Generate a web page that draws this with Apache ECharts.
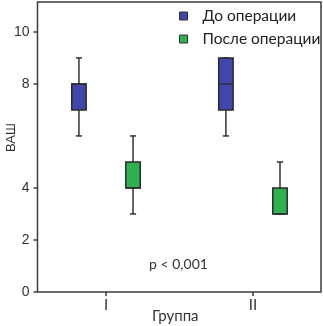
<!DOCTYPE html>
<html>
<head>
<meta charset="utf-8">
<style>
  html, body { margin: 0; padding: 0; background: #fff; }
  #chart { width: 323px; height: 326px; }
</style>
<script src="https://cdn.jsdelivr.net/npm/echarts@6/dist/echarts.min.js"></script>
</head>
<body>
<div id="chart"></div>
<script>
// группы и статистика: [min, Q1, median, Q3, max]
const groups = ['I', 'II'];
const seriesNames = ['До операции', 'После операции'];
const beforeStats = [[6, 7, 8, 8, 9], [6, 7, 8, 9, 9]];
const afterStats = [[3, 4, 4, 5, 6], [3, 3, 3, 4, 5]];
const yTicks = [0, 2, 4, 8, 10];
const pText = 'p < 0,001';

const colors = ['#3f47ad', '#2fb14f'];
const lineColor = '#333';

function makeRender(shift) {
  return function (params, api) {
    const x = api.value(0) + shift;
    const half = 0.049, cap = 0.021;
    const pMax = api.coord([x, api.value(5)]);
    const pQ3 = api.coord([x, api.value(4)]);
    const pMed = api.coord([x, api.value(3)]);
    const pQ1 = api.coord([x, api.value(2)]);
    const pMin = api.coord([x, api.value(1)]);
    const lt = api.coord([x - half, api.value(4)]);
    const rb = api.coord([x + half, api.value(2)]);
    const capL = api.coord([x - cap, 0])[0];
    const capR = api.coord([x + cap, 0])[0];
    const ls = { stroke: lineColor, lineWidth: 1.5 };
    return {
      type: 'group',
      children: [
        { type: 'line', shape: { x1: pMax[0], y1: pMax[1], x2: pQ3[0], y2: pQ3[1] }, style: ls },
        { type: 'line', shape: { x1: pQ1[0], y1: pQ1[1], x2: pMin[0], y2: pMin[1] }, style: ls },
        { type: 'line', shape: { x1: capL, y1: pMax[1], x2: capR, y2: pMax[1] }, style: ls },
        { type: 'line', shape: { x1: capL, y1: pMin[1], x2: capR, y2: pMin[1] }, style: ls },
        { type: 'rect', shape: { x: lt[0], y: lt[1], width: rb[0] - lt[0], height: rb[1] - lt[1] },
          style: { fill: api.visual('color'), stroke: '#2a2a2a', lineWidth: 1.5 } },
        { type: 'line', shape: { x1: lt[0], y1: pMed[1], x2: rb[0], y2: pMed[1] },
          style: { stroke: '#2a2a2a', lineWidth: 1.2 } }
      ]
    };
  };
}

const chart = echarts.init(document.getElementById('chart'));
chart.setOption({
  animation: false,
  grid: {
    left: 37.5, right: 2, top: 2, bottom: 34,
    outerBoundsMode: 'none',
    show: true, borderColor: '#3c3c3c', borderWidth: 1.5
  },
  legend: {
    orient: 'vertical',
    left: 174, top: 3,
    itemWidth: 8, itemHeight: 8, itemGap: 7,
    textStyle: { fontFamily: 'Lato', fontSize: 15.5, color: '#222', lineHeight: 16, padding: [0, 0, 0, 10] },
    data: seriesNames.map((n, i) => ({
      name: n, icon: 'rect',
      itemStyle: { color: colors[i], borderColor: '#333', borderWidth: 1 }
    }))
  },
  xAxis: {
    type: 'value',
    min: 0.534, max: 2.463,
    axisLine: { show: false },
    splitLine: { show: false },
    axisTick: { show: true, length: 4, lineStyle: { color: '#3c3c3c', width: 1.5 }, customValues: [1, 2] },
    axisLabel: {
      customValues: [1, 2], margin: 6,
      fontFamily: 'Lato', fontSize: 15, color: '#333',
      formatter: v => groups[Math.round(v) - 1]
    },
    name: 'Группа', nameLocation: 'middle', nameGap: 17, nameMoveOverlap: false,
    nameTextStyle: { fontFamily: 'Lato', fontSize: 15, color: '#333', padding: [0, 8, 0, 0] }
  },
  yAxis: {
    type: 'value',
    min: 0, max: 11.15,
    axisLine: { show: false },
    splitLine: { show: false },
    axisTick: { show: true, length: 4, lineStyle: { color: '#3c3c3c', width: 1.5 }, customValues: yTicks },
    axisLabel: { customValues: yTicks, margin: 8, fontFamily: 'Liberation Sans', fontSize: 14, color: '#333' },
    name: 'ВАШ', nameLocation: 'middle', nameGap: 20, nameMoveOverlap: false,
    nameTextStyle: { fontFamily: 'Liberation Sans', fontSize: 13, color: '#333', padding: [0, 0, 0, 19] }
  },
  graphic: [{
    type: 'text', x: 178.5, y: 264,
    style: { text: pText, fontFamily: 'Lato', fontSize: 14, fill: '#333', align: 'center', verticalAlign: 'middle' }
  }],
  series: [
    {
      name: seriesNames[0], type: 'custom',
      renderItem: makeRender(-0.184),
      itemStyle: { color: colors[0] },
      encode: { x: 0, y: [1, 2, 3, 4, 5] },
      data: groups.map((g, i) => [i + 1].concat(beforeStats[i]))
    },
    {
      name: seriesNames[1], type: 'custom',
      renderItem: makeRender(0.184),
      itemStyle: { color: colors[1] },
      encode: { x: 0, y: [1, 2, 3, 4, 5] },
      data: groups.map((g, i) => [i + 1].concat(afterStats[i]))
    }
  ]
});
</script>
</body>
</html>
